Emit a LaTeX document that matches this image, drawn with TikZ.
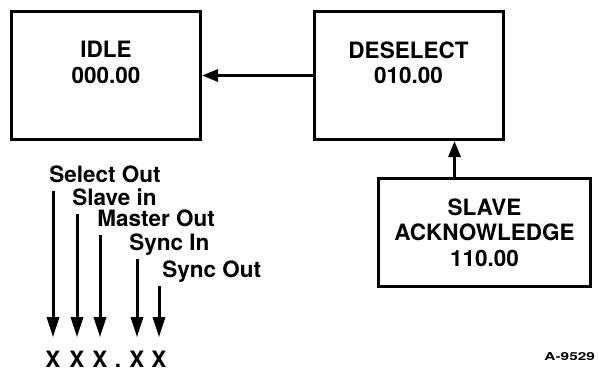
\documentclass[tikz,border=0pt]{standalone}
\usepackage{fontspec}
\setmainfont{TeX Gyre Heros}
\usetikzlibrary{arrows.meta,calc}

\begin{document}
\begin{tikzpicture}[
  x=0.5pt, y=-0.5pt,
  font=\fontsize{11.25pt}{12.75pt}\selectfont\bfseries,
  state/.style={draw, line width=1.5pt, align=center, inner sep=0pt},
  flow/.style={draw, line width=1.5pt, -{Triangle[length=8pt,width=6pt]}},
  sig/.style={draw, line width=1.5pt, -{Triangle[length=10pt,width=6pt]}},
  signame/.style={anchor=base west, inner sep=0pt},
  bit/.style={anchor=base, inner sep=6.5pt}
]
\useasboundingbox (0,0) rectangle (598,369);

% states
\node[state, minimum width=94.5pt, minimum height=64pt, text depth=13pt] (idle) at (106,75.5) {IDLE\\000.00};
\node[state, minimum width=94.5pt, minimum height=64pt, text depth=13pt] (desel) at (408.5,75.5) {DESELECT\\010.00};
\node[state, minimum width=106pt, minimum height=54pt] (ack) at (484.5,232.5) {SLAVE\\ACKNOWLEDGE\\110.00};

\draw[flow] (desel.west) -- (idle.east);
\coordinate (up) at ([xshift=-15pt]ack.north);
\draw[flow] (up) -- (up |- desel.south);

% signal names
\node[signame] (selout) at (49,182) {Select Out};
\node[signame] (slvin) at (72,205) {Slave in};
\node[signame] (mstout) at (97,226) {Master Out};
\node[signame] (syncin) at (129,250) {Sync In};
\node[signame] (syncout) at (162,277) {Sync Out};

% bit pattern
\node[bit] (b1) at (53,367) {X};
\node[bit] (b2) at (77,367) {X};
\node[bit] (b3) at (100,367) {X};
\node[bit] (pt) at (118,367) {.};
\node[bit] (b4) at (137,367) {X};
\node[bit] (b5) at (159,367) {X};

\foreach \b/\s in {b1/selout, b2/slvin, b3/mstout, b4/syncin, b5/syncout}
  \draw[sig] ($(\b |- \s.base)+(0,-4.5pt)$) -- (\b.north);

\node[anchor=base west, inner sep=0pt, font=\fontsize{5.5pt}{6pt}\selectfont\bfseries] (tag) at (544,360) {\scalebox{1.4}[1]{A-9529}};
\end{tikzpicture}
\end{document}
